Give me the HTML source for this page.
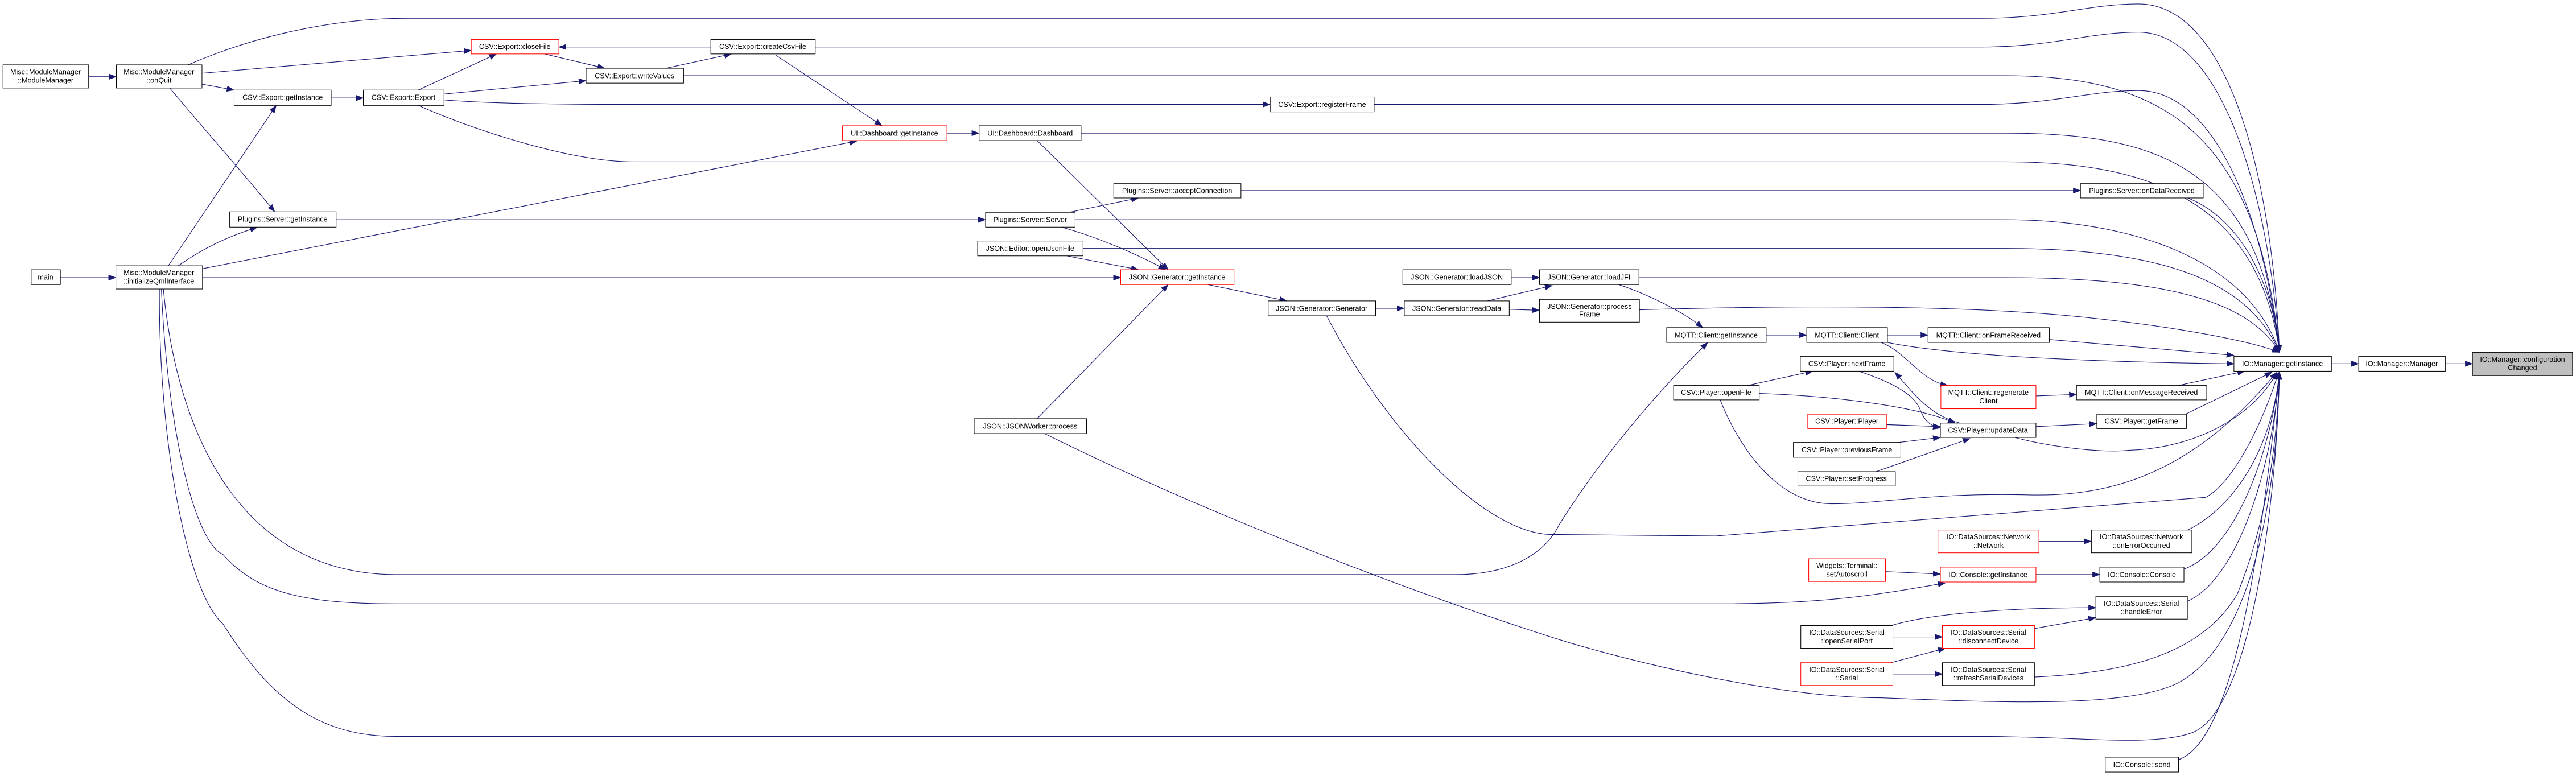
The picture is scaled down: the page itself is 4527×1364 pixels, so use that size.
<!DOCTYPE html>
<html><head><meta charset="utf-8">
<style>
html,body{margin:0;padding:0;background:#fff;width:4527px;height:1364px;overflow:hidden}
svg{display:block}
text{font-family:"Liberation Sans",sans-serif;font-size:14.5px;fill:#000;text-anchor:middle}
.e{fill:none;stroke:#191970;stroke-width:1.3;marker-end:url(#a)}
.n{fill:#fff;stroke:#000;stroke-width:1.2}
.r{fill:#fff;stroke:#ff0000;stroke-width:1.2}
.g{fill:#bfbfbf;stroke:#000;stroke-width:1.2}
</style></head><body>
<svg width="4527" height="1364" viewBox="0 0 5204 1568" xmlns="http://www.w3.org/2000/svg">
<defs><marker id="a" markerWidth="16" markerHeight="12" refX="15" refY="6" orient="auto" markerUnits="userSpaceOnUse"><path d="M0,0 L16,6 L0,12z" fill="#191970"/></marker></defs>
<g>
<path class="e" d="M179,155 L235,155"/>
<path class="e" d="M408,148 L952,102"/>
<path class="e" d="M408,170 L473,182"/>
<path class="e" d="M343,178 C420,270 500,360 555,428"/>
<path class="e" d="M380,131 C520,70 680,37 820,37 L4000,37 C4150,37 4220,8 4320,8 C4500,8 4590,350 4605,712"/>
<path class="e" d="M1436,95 L1129,95"/>
<path class="e" d="M1100,109 L1222,138"/>
<path class="e" d="M1345,138 L1478,109"/>
<path class="e" d="M1647,95 L4000,95 C4150,95 4220,65 4320,65 C4490,65 4585,400 4605,712"/>
<path class="e" d="M1381,153 L4050,153 C4350,153 4560,250 4605,712"/>
<path class="e" d="M669,198 L734,198"/>
<path class="e" d="M845,182 L1003,109"/>
<path class="e" d="M897,190 L1184,163"/>
<path class="e" d="M897,202 C1000,210 1150,211 1300,211 L2566,211"/>
<path class="e" d="M2776,211 L4000,211 C4150,211 4220,183 4320,183 C4470,183 4570,420 4605,712"/>
<path class="e" d="M845,213 C950,260 1150,327 1280,327 L4050,327 C4300,327 4560,380 4605,712"/>
<path class="e" d="M409,543 L1731,285"/>
<path class="e" d="M1568,112 L1782,254"/>
<path class="e" d="M1913,269 L1978,269"/>
<path class="e" d="M2184,269 L4050,269 C4350,269 4560,330 4605,712"/>
<path class="e" d="M2095,284 L2360,545"/>
<path class="e" d="M679,444 L1991,444"/>
<path class="e" d="M2160,429 L2300,400"/>
<path class="e" d="M2507,385 L4203,385"/>
<path class="e" d="M4420,400 C4520,440 4590,560 4605,712"/>
<path class="e" d="M2172,444 L4050,444 C4300,444 4540,520 4605,712"/>
<path class="e" d="M2145,459 C2220,480 2300,515 2355,545"/>
<path class="e" d="M2155,517 L2300,545"/>
<path class="e" d="M2188,502 L4050,502 C4350,502 4540,560 4605,712"/>
<path class="e" d="M409,561 L2264,561"/>
<path class="e" d="M2440,575 L2600,608"/>
<path class="e" d="M2779,623 L2837,623"/>
<path class="e" d="M3053,561 L3110,561"/>
<path class="e" d="M3005,608 L3136,577"/>
<path class="e" d="M3049,625 L3110,627"/>
<path class="e" d="M3311,561 L4050,561 C4350,561 4540,600 4605,712"/>
<path class="e" d="M3270,575 C3330,595 3400,630 3440,662"/>
<path class="e" d="M3312,626 C3700,615 4000,620 4200,640 C4400,660 4550,690 4605,712"/>
<path class="e" d="M3568,677 L3650,677"/>
<path class="e" d="M3813,677 L3895,677"/>
<path class="e" d="M4140,686 L4513,718"/>
<path class="e" d="M3813,692 C3900,710 4100,730 4513,735"/>
<path class="e" d="M3800,692 C3850,710 3880,770 3935,779"/>
<path class="e" d="M4113,800 L4195,797"/>
<path class="e" d="M4400,779 L4535,750"/>
<path class="e" d="M3530,779 L3662,750"/>
<path class="e" d="M3554,795 C3700,800 3870,820 3950,855"/>
<path class="e" d="M3475,808 C3520,920 3600,1018 3700,1018 C3800,1018 3900,995 4100,1000 C4300,1005 4450,930 4600,752"/>
<path class="e" d="M3755,750 C3830,775 3870,800 3880,830 C3890,855 3905,862 3920,865"/>
<path class="e" d="M3960,855 C3900,840 3870,800 3828,752"/>
<path class="e" d="M3811,858 L3920,862"/>
<path class="e" d="M3836,894 L3920,884"/>
<path class="e" d="M3790,953 L3980,886"/>
<path class="e" d="M4113,862 L4236,856"/>
<path class="e" d="M4415,837 L4590,752"/>
<path class="e" d="M4070,884 C4150,905 4250,915 4300,910 C4450,905 4560,830 4600,752"/>
<path class="e" d="M2680,638 C2800,870 3000,1080 3136,1080 L3466,1083 L4456,1005 C4520,970 4580,830 4603,752"/>
<path class="e" d="M330,584 C360,900 500,1161 800,1161 L2940,1161 C3050,1161 3120,1120 3150,1060 C3250,900 3380,760 3450,692"/>
<path class="e" d="M326,584 C340,900 400,1100 450,1120 C520,1200 620,1220 800,1220 L3476,1220 C3700,1220 3800,1200 3930,1178"/>
<path class="e" d="M322,584 C320,900 380,1200 450,1260 C550,1420 650,1488 800,1488 L4000,1488 C4200,1488 4350,1510 4430,1480 C4550,1430 4600,1000 4605,752"/>
<path class="e" d="M2095,846 L2360,575"/>
<path class="e" d="M2110,876 C2400,1020 2800,1180 3136,1288 C3300,1340 3600,1410 3800,1410 C4050,1420 4300,1430 4400,1380 C4550,1300 4600,1000 4605,752"/>
<path class="e" d="M4119,1094 L4225,1094"/>
<path class="e" d="M4420,1071 C4520,1020 4590,900 4605,752"/>
<path class="e" d="M3809,1155 L3920,1160"/>
<path class="e" d="M4113,1161 L4242,1161"/>
<path class="e" d="M4412,1150 C4520,1110 4590,900 4605,752"/>
<path class="e" d="M3820,1264 C3900,1240 4050,1228 4234,1228"/>
<path class="e" d="M3824,1287 L3924,1287"/>
<path class="e" d="M3820,1339 L3930,1310"/>
<path class="e" d="M3824,1362 L3924,1362"/>
<path class="e" d="M4110,1270 L4234,1248"/>
<path class="e" d="M4419,1215 C4520,1170 4590,950 4605,752"/>
<path class="e" d="M4110,1368 C4300,1360 4450,1320 4520,1200 C4580,1050 4600,900 4605,752"/>
<path class="e" d="M4401,1535 C4500,1500 4560,1200 4605,752"/>
<path class="e" d="M4710,735 L4765,735"/>
<path class="e" d="M4940,735 L4995,735"/>
<path class="e" d="M122,561 L234,561"/>
<path class="e" d="M340,537 L558,213"/>
<path class="e" d="M360,537 C420,495 470,475 520,459"/>
</g>
<g>
<rect class="n" x="6" y="131" width="173" height="47"/><text x="92" y="150">Misc::ModuleManager</text><text x="92" y="167">::ModuleManager</text>
<rect class="n" x="235" y="131" width="173" height="47"/><text x="321" y="150">Misc::ModuleManager</text><text x="321" y="167">::onQuit</text>
<rect class="n" x="473" y="182" width="196" height="31"/><text x="571" y="202">CSV::Export::getInstance</text>
<rect class="n" x="734" y="182" width="163" height="31"/><text x="815" y="202">CSV::Export::Export</text>
<rect class="r" x="952" y="80" width="177" height="29"/><text x="1040" y="99">CSV::Export::closeFile</text>
<rect class="n" x="1184" y="138" width="197" height="30"/><text x="1282" y="158">CSV::Export::writeValues</text>
<rect class="n" x="1436" y="80" width="211" height="29"/><text x="1541" y="99">CSV::Export::createCsvFile</text>
<rect class="n" x="464" y="428" width="215" height="31"/><text x="571" y="448">Plugins::Server::getInstance</text>
<rect class="n" x="63" y="545" width="59" height="30"/><text x="92" y="565">main</text>
<rect class="n" x="234" y="537" width="175" height="47"/><text x="321" y="556">Misc::ModuleManager</text><text x="321" y="573">::initializeQmlInterface</text>
<rect class="r" x="1702" y="254" width="211" height="30"/><text x="1807" y="274">UI::Dashboard::getInstance</text>
<rect class="n" x="1978" y="254" width="206" height="30"/><text x="2081" y="274">UI::Dashboard::Dashboard</text>
<rect class="n" x="2566" y="196" width="210" height="30"/><text x="2671" y="216">CSV::Export::registerFrame</text>
<rect class="n" x="2250" y="371" width="257" height="29"/><text x="2378" y="390">Plugins::Server::acceptConnection</text>
<rect class="n" x="1991" y="429" width="181" height="30"/><text x="2081" y="449">Plugins::Server::Server</text>
<rect class="n" x="1975" y="487" width="213" height="30"/><text x="2081" y="507">JSON::Editor::openJsonFile</text>
<rect class="r" x="2264" y="545" width="229" height="30"/><text x="2378" y="565">JSON::Generator::getInstance</text>
<rect class="n" x="2562" y="608" width="217" height="30"/><text x="2670" y="628">JSON::Generator::Generator</text>
<rect class="n" x="2834" y="545" width="219" height="30"/><text x="2943" y="565">JSON::Generator::loadJSON</text>
<rect class="n" x="2837" y="608" width="212" height="30"/><text x="2943" y="628">JSON::Generator::readData</text>
<rect class="n" x="1968" y="846" width="227" height="30"/><text x="2081" y="866">JSON::JSONWorker::process</text>
<rect class="n" x="3110" y="545" width="201" height="30"/><text x="3210" y="565">JSON::Generator::loadJFI</text>
<rect class="n" x="3110" y="605" width="202" height="46"/><text x="3211" y="624">JSON::Generator::process</text><text x="3211" y="640">Frame</text>
<rect class="n" x="3367" y="662" width="201" height="30"/><text x="3467" y="682">MQTT::Client::getInstance</text>
<rect class="n" x="3650" y="662" width="163" height="30"/><text x="3731" y="682">MQTT::Client::Client</text>
<rect class="n" x="3895" y="662" width="245" height="30"/><text x="4017" y="682">MQTT::Client::onFrameReceived</text>
<rect class="n" x="3637" y="720" width="189" height="30"/><text x="3731" y="740">CSV::Player::nextFrame</text>
<rect class="n" x="3381" y="779" width="173" height="29"/><text x="3467" y="798">CSV::Player::openFile</text>
<rect class="r" x="3921" y="779" width="192" height="47"/><text x="4017" y="798">MQTT::Client::regenerate</text><text x="4017" y="815">Client</text>
<rect class="n" x="4195" y="779" width="263" height="29"/><text x="4326" y="798">MQTT::Client::onMessageReceived</text>
<rect class="r" x="3652" y="837" width="159" height="29"/><text x="3731" y="856">CSV::Player::Player</text>
<rect class="n" x="3920" y="855" width="193" height="29"/><text x="4016" y="874">CSV::Player::updateData</text>
<rect class="n" x="4236" y="837" width="181" height="29"/><text x="4326" y="856">CSV::Player::getFrame</text>
<rect class="n" x="3623" y="894" width="217" height="30"/><text x="3731" y="914">CSV::Player::previousFrame</text>
<rect class="n" x="3632" y="953" width="197" height="29"/><text x="3730" y="972">CSV::Player::setProgress</text>
<rect class="r" x="3915" y="1071" width="204" height="46"/><text x="4017" y="1090">IO::DataSources::Network</text><text x="4017" y="1107">::Network</text>
<rect class="n" x="4225" y="1071" width="203" height="46"/><text x="4326" y="1090">IO::DataSources::Network</text><text x="4326" y="1107">::onErrorOccurred</text>
<rect class="r" x="3654" y="1129" width="155" height="46"/><text x="3731" y="1148">Widgets::Terminal::</text><text x="3731" y="1165">setAutoscroll</text>
<rect class="r" x="3920" y="1146" width="193" height="30"/><text x="4016" y="1166">IO::Console::getInstance</text>
<rect class="n" x="4242" y="1146" width="170" height="30"/><text x="4327" y="1166">IO::Console::Console</text>
<rect class="n" x="4234" y="1205" width="185" height="46"/><text x="4326" y="1224">IO::DataSources::Serial</text><text x="4326" y="1241">::handleError</text>
<rect class="n" x="3638" y="1264" width="186" height="46"/><text x="3731" y="1283">IO::DataSources::Serial</text><text x="3731" y="1300">::openSerialPort</text>
<rect class="r" x="3924" y="1264" width="186" height="46"/><text x="4017" y="1283">IO::DataSources::Serial</text><text x="4017" y="1300">::disconnectDevice</text>
<rect class="r" x="3638" y="1339" width="186" height="46"/><text x="3731" y="1358">IO::DataSources::Serial</text><text x="3731" y="1375">::Serial</text>
<rect class="n" x="3924" y="1339" width="186" height="46"/><text x="4017" y="1358">IO::DataSources::Serial</text><text x="4017" y="1375">::refreshSerialDevices</text>
<rect class="n" x="4253" y="1530" width="148" height="30"/><text x="4327" y="1550">IO::Console::send</text>
<rect class="n" x="4203" y="371" width="248" height="29"/><text x="4327" y="390">Plugins::Server::onDataReceived</text>
<rect class="n" x="4513" y="720" width="197" height="30"/><text x="4611" y="740">IO::Manager::getInstance</text>
<rect class="n" x="4765" y="720" width="175" height="30"/><text x="4852" y="740">IO::Manager::Manager</text>
<rect class="g" x="4995" y="712" width="202" height="47"/><text x="5096" y="731">IO::Manager::configuration</text><text x="5096" y="748">Changed</text>
</g>
</svg>
</body></html>
